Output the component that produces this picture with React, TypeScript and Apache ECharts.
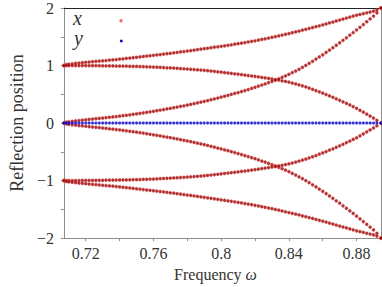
import { useEffect, useRef } from "react";
import * as echarts from "echarts";

// Frequencies at which the reflection positions were sampled
const omega = [
  0.7071, 0.7086, 0.71, 0.712, 0.714, 0.716, 0.718, 0.72, 0.722, 0.724, 0.726, 0.728, 0.73, 0.732, 0.734, 0.736,
  0.738, 0.74, 0.742, 0.744, 0.746, 0.748, 0.75, 0.752, 0.754, 0.756, 0.758, 0.76, 0.762, 0.764, 0.766, 0.768,
  0.77, 0.772, 0.774, 0.776, 0.778, 0.78, 0.782, 0.784, 0.786, 0.788, 0.79, 0.792, 0.794, 0.796, 0.798, 0.8,
  0.802, 0.804, 0.806, 0.808, 0.81, 0.812, 0.814, 0.816, 0.818, 0.82, 0.822, 0.824, 0.826, 0.828, 0.83, 0.832,
  0.834, 0.836, 0.838, 0.84, 0.842, 0.844, 0.846, 0.848, 0.85, 0.852, 0.854, 0.856, 0.858, 0.86, 0.862, 0.864,
  0.866, 0.868, 0.87, 0.872, 0.874, 0.876, 0.878, 0.88, 0.882, 0.884, 0.886, 0.888, 0.89, 0.892, 0.8944,
];

// x reflection positions: upper branches
const upperOuter = [
  1.0, 1.016, 1.022, 1.03, 1.036, 1.043, 1.049, 1.055, 1.061, 1.066, 1.072, 1.077, 1.082, 1.087, 1.093, 1.098,
  1.104, 1.11, 1.117, 1.123, 1.129, 1.136, 1.143, 1.15, 1.157, 1.164, 1.17, 1.177, 1.184, 1.191, 1.198, 1.206,
  1.213, 1.22, 1.228, 1.236, 1.243, 1.251, 1.259, 1.267, 1.276, 1.284, 1.292, 1.3, 1.309, 1.318, 1.326, 1.334,
  1.343, 1.351, 1.36, 1.37, 1.379, 1.389, 1.399, 1.409, 1.42, 1.43, 1.442, 1.453, 1.465, 1.477, 1.489, 1.502,
  1.515, 1.529, 1.543, 1.556, 1.57, 1.584, 1.598, 1.614, 1.629, 1.644, 1.659, 1.675, 1.691, 1.707, 1.723, 1.74,
  1.756, 1.774, 1.79, 1.807, 1.824, 1.841, 1.857, 1.874, 1.887, 1.901, 1.916, 1.93, 1.945, 1.964, 2.0,
];
const upperFalling = [
  1.0, 1.0, 1.0, 1.0, 0.999, 0.999, 0.998, 0.998, 0.998, 0.997, 0.997, 0.996, 0.995, 0.994, 0.993, 0.992,
  0.991, 0.99, 0.989, 0.988, 0.986, 0.985, 0.984, 0.982, 0.98, 0.978, 0.975, 0.973, 0.97, 0.967, 0.964, 0.961,
  0.958, 0.954, 0.951, 0.947, 0.943, 0.939, 0.935, 0.93, 0.926, 0.921, 0.916, 0.91, 0.904, 0.898, 0.891, 0.884,
  0.877, 0.87, 0.863, 0.856, 0.849, 0.841, 0.834, 0.826, 0.818, 0.81, 0.802, 0.793, 0.784, 0.775, 0.766, 0.756,
  0.746, 0.735, 0.723, 0.71, 0.695, 0.68, 0.663, 0.646, 0.628, 0.607, 0.586, 0.565, 0.542, 0.52, 0.496, 0.472,
  0.447, 0.422, 0.396, 0.369, 0.342, 0.314, 0.285, 0.256, 0.222, 0.189, 0.155, 0.12, 0.086, 0.047, 0.0,
];
const upperRising = [
  0.0, 0.016, 0.022, 0.03, 0.037, 0.044, 0.051, 0.057, 0.063, 0.069, 0.075, 0.081, 0.087, 0.093, 0.1, 0.106,
  0.113, 0.12, 0.128, 0.135, 0.143, 0.151, 0.159, 0.168, 0.177, 0.186, 0.195, 0.204, 0.214, 0.224, 0.234, 0.245,
  0.255, 0.266, 0.277, 0.289, 0.3, 0.312, 0.324, 0.337, 0.35, 0.363, 0.376, 0.39, 0.405, 0.42, 0.435, 0.45,
  0.466, 0.481, 0.497, 0.514, 0.53, 0.548, 0.565, 0.583, 0.602, 0.62, 0.64, 0.66, 0.681, 0.702, 0.723, 0.746,
  0.769, 0.794, 0.82, 0.846, 0.875, 0.904, 0.935, 0.968, 1.001, 1.037, 1.073, 1.11, 1.149, 1.187, 1.227, 1.268,
  1.309, 1.352, 1.394, 1.438, 1.482, 1.527, 1.572, 1.618, 1.665, 1.712, 1.761, 1.81, 1.859, 1.917, 2.0,
];

// x reflection positions: lower branches
const lowerFalling = [
  -0.0, -0.016, -0.022, -0.03, -0.037, -0.044, -0.051, -0.057, -0.063, -0.069, -0.075, -0.081, -0.087, -0.093, -0.1, -0.106,
  -0.113, -0.12, -0.128, -0.135, -0.143, -0.151, -0.159, -0.168, -0.177, -0.186, -0.195, -0.204, -0.214, -0.224, -0.234, -0.245,
  -0.255, -0.266, -0.277, -0.289, -0.3, -0.312, -0.324, -0.337, -0.35, -0.363, -0.376, -0.39, -0.405, -0.42, -0.435, -0.45,
  -0.466, -0.481, -0.497, -0.514, -0.53, -0.548, -0.565, -0.583, -0.602, -0.62, -0.64, -0.66, -0.681, -0.702, -0.723, -0.746,
  -0.769, -0.794, -0.82, -0.846, -0.875, -0.904, -0.935, -0.968, -1.001, -1.037, -1.073, -1.11, -1.149, -1.187, -1.227, -1.268,
  -1.309, -1.352, -1.394, -1.438, -1.482, -1.527, -1.572, -1.618, -1.665, -1.712, -1.761, -1.81, -1.859, -1.917, -2.0,
];
const lowerRising = [
  -1.0, -1.0, -1.0, -1.0, -0.999, -0.999, -0.998, -0.998, -0.998, -0.997, -0.997, -0.996, -0.995, -0.994, -0.993, -0.992,
  -0.991, -0.99, -0.989, -0.988, -0.986, -0.985, -0.984, -0.982, -0.98, -0.978, -0.975, -0.973, -0.97, -0.967, -0.964, -0.961,
  -0.958, -0.954, -0.951, -0.947, -0.943, -0.939, -0.935, -0.93, -0.926, -0.921, -0.916, -0.91, -0.904, -0.898, -0.891, -0.884,
  -0.877, -0.87, -0.863, -0.856, -0.849, -0.841, -0.834, -0.826, -0.818, -0.81, -0.802, -0.793, -0.784, -0.775, -0.766, -0.756,
  -0.746, -0.735, -0.723, -0.71, -0.695, -0.68, -0.663, -0.646, -0.628, -0.607, -0.586, -0.565, -0.542, -0.52, -0.496, -0.472,
  -0.447, -0.422, -0.396, -0.369, -0.342, -0.314, -0.285, -0.256, -0.222, -0.189, -0.155, -0.12, -0.086, -0.047, -0.0,
];
const lowerOuter = [
  -1.0, -1.016, -1.022, -1.03, -1.036, -1.043, -1.049, -1.055, -1.061, -1.066, -1.072, -1.077, -1.082, -1.087, -1.093, -1.098,
  -1.104, -1.11, -1.117, -1.123, -1.129, -1.136, -1.143, -1.15, -1.157, -1.164, -1.17, -1.177, -1.184, -1.191, -1.198, -1.206,
  -1.213, -1.22, -1.228, -1.236, -1.243, -1.251, -1.259, -1.267, -1.276, -1.284, -1.292, -1.3, -1.309, -1.318, -1.326, -1.334,
  -1.343, -1.351, -1.36, -1.37, -1.379, -1.389, -1.399, -1.409, -1.42, -1.43, -1.442, -1.453, -1.465, -1.477, -1.489, -1.502,
  -1.515, -1.529, -1.543, -1.556, -1.57, -1.584, -1.598, -1.614, -1.629, -1.644, -1.659, -1.675, -1.691, -1.707, -1.723, -1.74,
  -1.756, -1.774, -1.79, -1.807, -1.824, -1.841, -1.857, -1.874, -1.887, -1.901, -1.916, -1.93, -1.945, -1.964, -2.0,
];

// y reflection positions (all on the axis)
const yPositions = [
  0, 0, 0, 0, 0, 0, 0, 0, 0, 0, 0, 0, 0, 0, 0, 0, 0, 0, 0, 0, 0, 0, 0, 0, 0, 0, 0, 0, 0, 0, 0, 0,
  0, 0, 0, 0, 0, 0, 0, 0, 0, 0, 0, 0, 0, 0, 0, 0, 0, 0, 0, 0, 0, 0, 0, 0, 0, 0, 0, 0, 0, 0, 0, 0,
  0, 0, 0, 0, 0, 0, 0, 0, 0, 0, 0, 0, 0, 0, 0, 0, 0, 0, 0, 0, 0, 0, 0, 0, 0, 0, 0, 0, 0, 0, 0,
];

const xTickValues = [0.72, 0.74, 0.76, 0.78, 0.8, 0.82, 0.84, 0.86, 0.88];
const xTickLabels = [0.72, 0.76, 0.8, 0.84, 0.88];
const yTickValues = [-2, -1.5, -1, -0.5, 0, 0.5, 1, 1.5, 2];
const yTickLabels = [-2, -1, 0, 1, 2];

const SERIF = "Liberation Serif";
const GRAY = "#8c8c8c";
const TEXT = "#333333";

const pair = (ys: number[]) => omega.map((w, i) => [w, ys[i]]);

export default function App() {
  const ref = useRef<HTMLDivElement>(null);

  useEffect(() => {
    if (!ref.current) return;
    const chart = echarts.init(ref.current, undefined, { renderer: "svg" });

    const redStyle = {
      color: "#960000",
      borderColor: "rgba(228,90,90,0.65)",
      borderWidth: 0.8,
    };
    const redSeries = [upperOuter, upperFalling, upperRising, lowerFalling, lowerRising, lowerOuter].map(
      (ys) => ({
        type: "scatter",
        name: "x",
        data: pair(ys),
        symbol: "circle",
        symbolSize: 3.2,
        itemStyle: redStyle,
        silent: true,
        z: 2,
      })
    );

    const xMin = 0.70711;
    const xMax = 0.89443;
    const labelStyle = {
      fontFamily: SERIF,
      fontSize: 16,
      color: TEXT,
    };

    chart.setOption({
      animation: false,
      textStyle: { fontFamily: SERIF },
      grid: { left: 46, right: 1, top: 7, bottom: 40, containLabel: false },
      xAxis: [
        {
          type: "value",
          min: xMin,
          max: xMax,
          name: "{a|Frequency }{b|ω}",
          nameLocation: "middle",
          nameGap: 21,
          nameTextStyle: {
            fontFamily: SERIF,
            fontSize: 16,
            color: TEXT,
            padding: [0, 14, 0, 0],
            rich: {
              a: { fontFamily: SERIF, fontSize: 16, color: TEXT },
              b: { fontFamily: SERIF, fontSize: 16, color: TEXT, fontStyle: "italic" },
            },
          },
          axisLine: { show: true, onZero: false, lineStyle: { color: GRAY, width: 1 } },
          axisTick: { show: true, inside: false, length: 3, customValues: xTickValues, lineStyle: { color: GRAY } },
          axisLabel: {
            ...labelStyle,
            customValues: xTickLabels,
            formatter: (v: number) => String(v),
            margin: 7,
          },
          splitLine: { show: false },
        },
        {
          type: "value",
          position: "top",
          min: xMin,
          max: xMax,
          axisLine: { show: true, onZero: false, lineStyle: { color: "#222222", width: 1 } },
          axisTick: { show: false },
          axisLabel: { show: false },
          splitLine: { show: false },
        },
      ],
      yAxis: [
        {
          type: "value",
          min: -2,
          max: 2,
          interval: 0.5,
          name: "Reflection position",
          nameLocation: "middle",
          nameGap: 26,
          nameTextStyle: { fontFamily: SERIF, fontSize: 18, color: TEXT },
          axisLine: { show: true, onZero: false, lineStyle: { color: GRAY, width: 1 } },
          axisTick: { show: true, inside: false, length: 3, customValues: yTickValues, lineStyle: { color: GRAY } },
          axisLabel: {
            ...labelStyle,
            customValues: yTickLabels,
            formatter: (v: number) => (v < 0 ? "\u2212" + Math.abs(v) : String(v)),
            margin: 10,
          },
          splitLine: { show: false },
        },
        {
          type: "value",
          position: "right",
          min: -2,
          max: 2,
          axisLine: { show: true, onZero: false, lineStyle: { color: GRAY, width: 1 } },
          axisTick: { show: false },
          axisLabel: { show: false },
          splitLine: { show: false },
        },
      ],
      series: [
        ...redSeries,
        {
          type: "scatter",
          name: "y",
          data: pair(yPositions),
          symbol: "circle",
          symbolSize: 3,
          itemStyle: { color: "#0000c8", borderColor: "rgba(90,90,240,0.5)", borderWidth: 0.6 },
          silent: true,
          z: 3,
        },
      ],
      graphic: [
        {
          type: "text",
          left: 73,
          top: 8,
          style: { text: "x", fontFamily: SERIF, fontSize: 20, fontStyle: "italic", fill: TEXT },
        },
        {
          type: "text",
          left: 74,
          top: 28,
          style: { text: "y", fontFamily: SERIF, fontSize: 20, fontStyle: "italic", fill: TEXT },
        },
        {
          type: "circle",
          shape: { cx: 121, cy: 20.7, r: 1.7 },
          style: { fill: "#f07070" },
        },
        {
          type: "circle",
          shape: { cx: 121.3, cy: 41, r: 1.5 },
          style: { fill: "#1010b0" },
        },
      ],
    });

    return () => chart.dispose();
  }, []);

  return (
    <div
      ref={ref}
      style={{ position: "absolute", left: 0, top: 0, width: 382, height: 287 }}
    />
  );
}
